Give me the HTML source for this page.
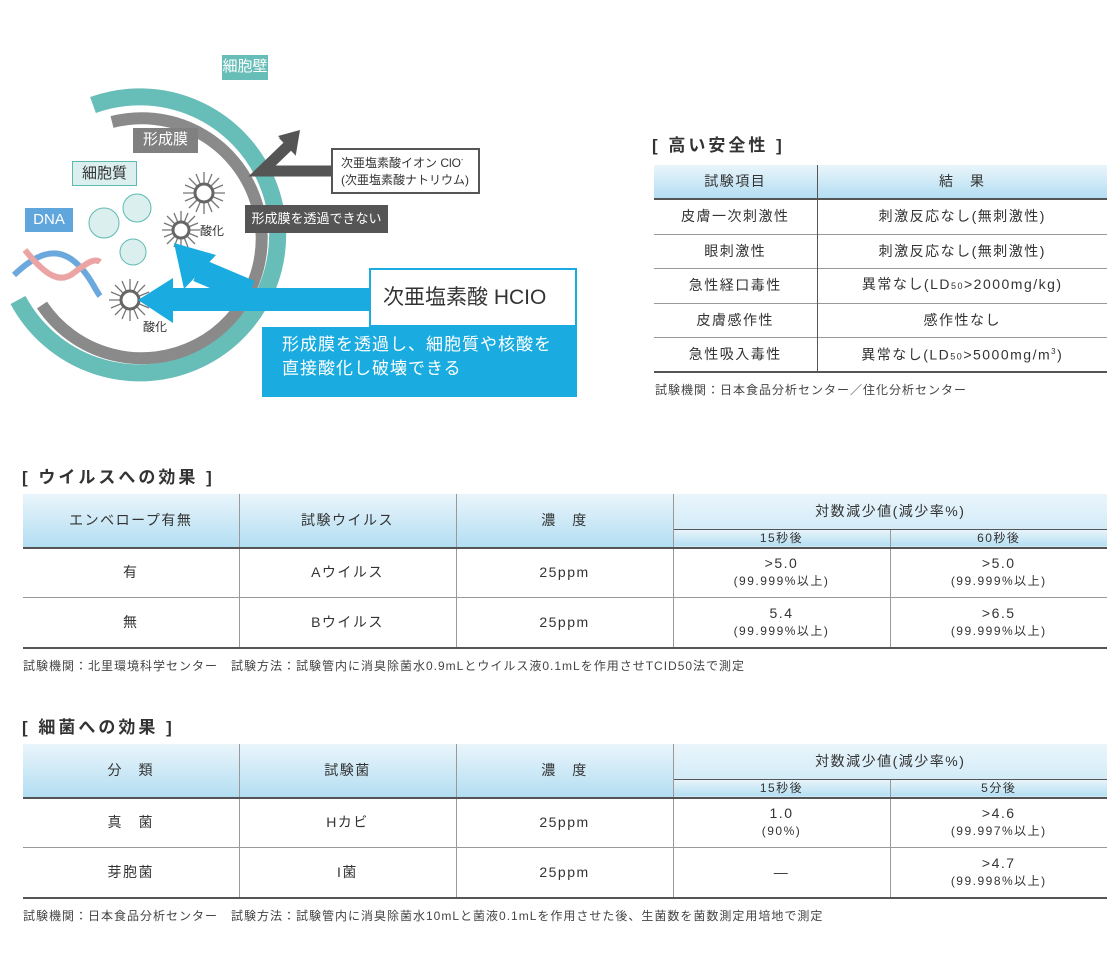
<!DOCTYPE html>
<html><head><meta charset="utf-8">
<style>
body{margin:0;width:1120px;height:976px;background:#fff;position:relative;overflow:hidden;font-family:"Liberation Sans","Noto Sans CJK JP",sans-serif;color:#333}
.a{position:absolute}
.ttl{font-size:17px;font-weight:bold;letter-spacing:3px;color:#333}
table{position:absolute;border-collapse:collapse;table-layout:fixed}
td{text-align:center;vertical-align:middle;padding:0;font-size:14px;letter-spacing:1.5px;color:#333;line-height:17px}
.h td{background:linear-gradient(#eaf5fb,#b3def2)}
.note{font-size:12px;letter-spacing:1px;color:#444}
.lbl{position:absolute;font-size:14px;text-align:center;line-height:24px;white-space:nowrap}
</style></head><body>

<!-- Diagram -->
<svg class="a" style="left:0;top:0" width="600" height="420">
  <path d="M93 105 A138 138 0 1 1 18 300" fill="none" stroke="#67bdb7" stroke-width="17"/>
  <path d="M112 122 A120 120 0 1 1 42 305" fill="none" stroke="#8a8a8a" stroke-width="12"/>
  <g fill="#dbefee" stroke="#5dbab2" stroke-width="1">
    <circle cx="104" cy="223" r="15"/><circle cx="137" cy="208" r="14"/><circle cx="133" cy="252" r="13"/>
  </g>
  <g stroke="#777" stroke-width="1.3">
    <g transform="translate(204,193)"><path d="M0-21V21M-21 0H21M-15-15L15 15M-15 15L15-15M-8-19L8 19M-19-8L19 8M-19 8L19-8M-8 19L8-19"/><circle r="9" fill="#fff" stroke="#666" stroke-width="3"/></g>
    <g transform="translate(181,230)"><path d="M0-19V19M-19 0H19M-14-14L14 14M-14 14L14-14M-7-17L7 17M-17-7L17 7M-17 7L17-7M-7 17L7-17"/><circle r="8" fill="#fff" stroke="#666" stroke-width="3"/></g>
    <g transform="translate(130,300)"><path d="M0-21V21M-21 0H21M-15-15L15 15M-15 15L15-15M-8-19L8 19M-19-8L19 8M-19 8L19-8M-8 19L8-19"/><circle r="9" fill="#fff" stroke="#666" stroke-width="3"/></g>
  </g>
  <!-- DNA -->
  <path d="M14 275 C35 255,55 245,75 262 C90 275,95 290,100 296" fill="none" stroke="#6aa8dd" stroke-width="6"/>
  <path d="M25 250 C45 275,60 285,75 272 C88 262,95 258,100 262" fill="none" stroke="#eca3a3" stroke-width="6"/>
  <!-- dark bent arrow -->
  <path d="M331 171 H262 L288 146" fill="none" stroke="#555" stroke-width="11" stroke-linejoin="miter"/>
  <path d="M279 138 L294 138 L296 156 Z" fill="#555"/>
  <path d="M278 136 L300 130 L296 154 Z" fill="#555"/>
  <!-- blue arrows -->
  <path d="M198 270 L250 292" stroke="#1aace0" stroke-width="24"/>
  <path d="M174 243 L216 255 L184 289 Z" fill="#1aace0"/>
  <path d="M370 288 H173 V278 L138 300 L173 323 V311 H370 Z" fill="#1aace0"/>
</svg>
<div class="lbl" style="left:222px;top:55px;width:46px;height:25px;background:#67bdb7;color:#fff;font-size:15px">細胞壁</div>
<div class="lbl" style="left:133px;top:128px;width:65px;height:25px;background:#808080;color:#fff;font-size:15px">形成膜</div>
<div class="lbl" style="left:72px;top:161px;width:63px;height:23px;background:#dbefee;border:1px solid #5dbab2;color:#333;font-size:15px">細胞質</div>
<div class="lbl" style="left:25px;top:208px;width:48px;height:24px;background:#5fa6dc;color:#fff;font-size:15px">DNA</div>
<div class="a" style="left:200px;top:222px;font-size:12px">酸化</div>
<div class="a" style="left:143px;top:318px;font-size:12px">酸化</div>
<div class="a" style="left:331px;top:148px;width:137px;height:40px;border:2px solid #555;background:#fff;font-size:12px;line-height:17px;padding:2px 0 0 8px;color:#333;white-space:nowrap">次亜塩素酸イオン ClO<sup style="font-size:7px">-</sup><br>(次亜塩素酸ナトリウム)</div>
<div class="a" style="left:245px;top:205px;width:143px;height:28px;background:#555;color:#fff;font-size:13px;line-height:28px;text-align:center">形成膜を透過できない</div>
<div class="a" style="left:262px;top:327px;width:315px;height:70px;background:#1aace0;color:#fff;font-size:17px;line-height:24px;padding:6px 0 0 20px;box-sizing:border-box;letter-spacing:1px">形成膜を透過し、細胞質や核酸を<br>直接酸化し破壊できる</div>
<div class="a" style="left:369px;top:268px;width:208px;height:59px;background:#fff;border:2px solid #1aace0;box-sizing:border-box;font-size:21px;line-height:55px;padding-left:12px;color:#333">次亜塩素酸 HCIO</div>

<!-- Safety -->
<div class="a ttl" style="left:652px;top:131px">[ 高い安全性 ]</div>
<table style="left:654px;top:165px;width:453px">
<colgroup><col style="width:163px"><col style="width:290px"></colgroup>
<tr class="h" style="height:34px;border-bottom:2px solid #555"><td style="border-right:1px solid #555">試験項目</td><td>結　果</td></tr>
<tr style="height:35px;border-bottom:1px solid #999"><td style="border-right:1px solid #555">皮膚一次刺激性</td><td>刺激反応なし(無刺激性)</td></tr>
<tr style="height:34px;border-bottom:1px solid #999"><td style="border-right:1px solid #555">眼刺激性</td><td>刺激反応なし(無刺激性)</td></tr>
<tr style="height:35px;border-bottom:1px solid #999"><td style="border-right:1px solid #555">急性経口毒性</td><td>異常なし(LD<span style="font-size:9px">50</span>&gt;2000mg/kg)</td></tr>
<tr style="height:34px;border-bottom:1px solid #999"><td style="border-right:1px solid #555">皮膚感作性</td><td>感作性なし</td></tr>
<tr style="height:35px;border-bottom:2px solid #555"><td style="border-right:1px solid #555">急性吸入毒性</td><td>異常なし(LD<span style="font-size:9px">50</span>&gt;5000mg/m<sup style="font-size:8px">3</sup>)</td></tr>
</table>
<div class="a note" style="left:655px;top:381px">試験機関：日本食品分析センター／住化分析センター</div>

<!-- Virus -->
<div class="a ttl" style="left:22px;top:463px">[ ウイルスへの効果 ]</div>
<table style="left:23px;top:494px;width:1084px">
<colgroup><col style="width:216px"><col style="width:217px"><col style="width:217px"><col style="width:217px"><col style="width:217px"></colgroup>
<tr class="h" style="height:35px"><td rowspan="2" style="border-right:1px solid #999">エンベロープ有無</td><td rowspan="2" style="border-right:1px solid #999">試験ウイルス</td><td rowspan="2" style="border-right:1px solid #999">濃　度</td><td colspan="2" style="border-bottom:1px solid #555;background:linear-gradient(#eaf5fb,#d3ecf8)">対数減少値(減少率%)</td></tr>
<tr class="h" style="height:18px;border-bottom:2px solid #555"><td style="border-right:1px solid #999;font-size:12px">15秒後</td><td style="font-size:12px">60秒後</td></tr>
<tr style="height:50px;border-bottom:1px solid #999"><td style="border-right:1px solid #999">有</td><td style="border-right:1px solid #999">Aウイルス</td><td style="border-right:1px solid #999">25ppm</td><td style="border-right:1px solid #999">&gt;5.0<br><span style="font-size:12px">(99.999%以上)</span></td><td>&gt;5.0<br><span style="font-size:12px">(99.999%以上)</span></td></tr>
<tr style="height:50px;border-bottom:2px solid #555"><td style="border-right:1px solid #999">無</td><td style="border-right:1px solid #999">Bウイルス</td><td style="border-right:1px solid #999">25ppm</td><td style="border-right:1px solid #999">5.4<br><span style="font-size:12px">(99.999%以上)</span></td><td>&gt;6.5<br><span style="font-size:12px">(99.999%以上)</span></td></tr>
</table>
<div class="a note" style="left:23px;top:657px">試験機関：北里環境科学センター　試験方法：試験管内に消臭除菌水0.9mLとウイルス液0.1mLを作用させTCID50法で測定</div>

<!-- Bacteria -->
<div class="a ttl" style="left:22px;top:713px">[ 細菌への効果 ]</div>
<table style="left:23px;top:744px;width:1084px">
<colgroup><col style="width:216px"><col style="width:217px"><col style="width:217px"><col style="width:217px"><col style="width:217px"></colgroup>
<tr class="h" style="height:35px"><td rowspan="2" style="border-right:1px solid #999">分　類</td><td rowspan="2" style="border-right:1px solid #999">試験菌</td><td rowspan="2" style="border-right:1px solid #999">濃　度</td><td colspan="2" style="border-bottom:1px solid #555;background:linear-gradient(#eaf5fb,#d3ecf8)">対数減少値(減少率%)</td></tr>
<tr class="h" style="height:18px;border-bottom:2px solid #555"><td style="border-right:1px solid #999;font-size:12px">15秒後</td><td style="font-size:12px">5分後</td></tr>
<tr style="height:50px;border-bottom:1px solid #999"><td style="border-right:1px solid #999">真　菌</td><td style="border-right:1px solid #999">Hカビ</td><td style="border-right:1px solid #999">25ppm</td><td style="border-right:1px solid #999">1.0<br><span style="font-size:12px">(90%)</span></td><td>&gt;4.6<br><span style="font-size:12px">(99.997%以上)</span></td></tr>
<tr style="height:50px;border-bottom:2px solid #555"><td style="border-right:1px solid #999">芽胞菌</td><td style="border-right:1px solid #999">I菌</td><td style="border-right:1px solid #999">25ppm</td><td style="border-right:1px solid #999">—</td><td>&gt;4.7<br><span style="font-size:12px">(99.998%以上)</span></td></tr>
</table>
<div class="a note" style="left:23px;top:907px">試験機関：日本食品分析センター　試験方法：試験管内に消臭除菌水10mLと菌液0.1mLを作用させた後、生菌数を菌数測定用培地で測定</div>
</body></html>
